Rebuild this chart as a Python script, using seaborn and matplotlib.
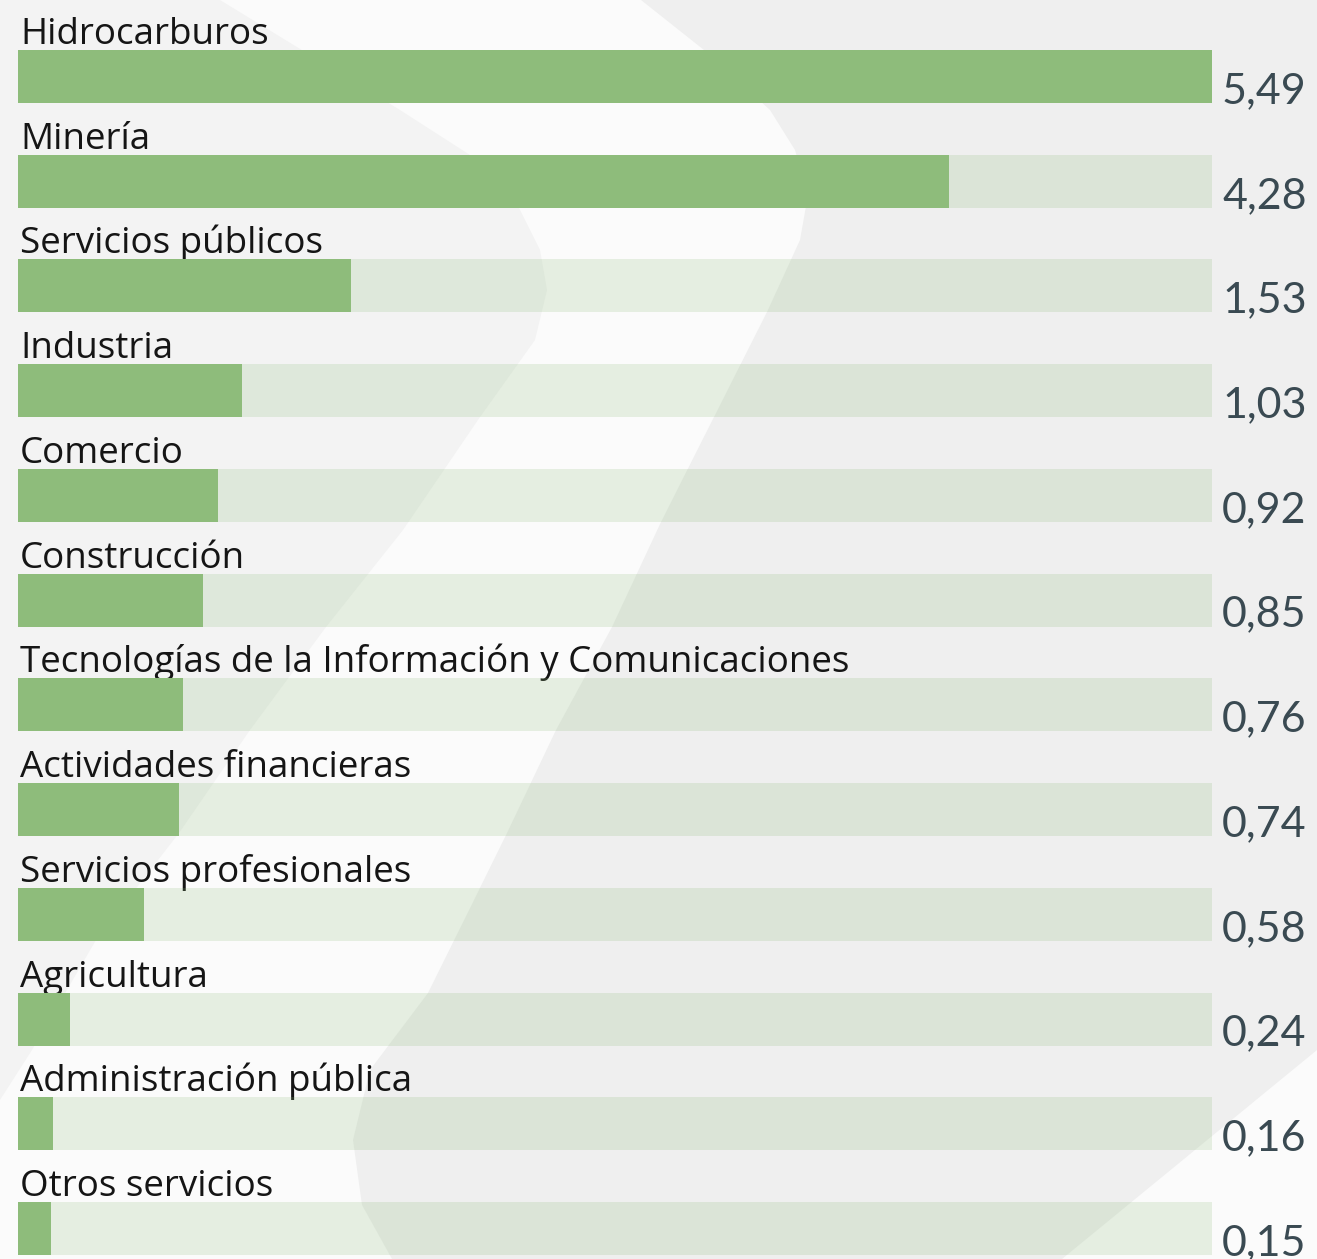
import seaborn as sns
import pandas as pd
import matplotlib.pyplot as plt
import numpy as np

sectors = ["Hidrocarburos", "Minería", "Servicios públicos", "Industria", "Comercio",
           "Construcción", "Tecnologías de la Información y Comunicaciones",
           "Actividades financieras", "Servicios profesionales", "Agricultura",
           "Administración pública", "Otros servicios"]
values = [5.49, 4.28, 1.53, 1.03, 0.92, 0.85, 0.76, 0.74, 0.58, 0.24, 0.16, 0.15]
value_labels = ["5,49", "4,28", "1,53", "1,03", "0,92", "0,85", "0,76", "0,74",
                "0,58", "0,24", "0,16", "0,15"]

green = "#8ebc7b"
W, H = 1317, 1259

df = pd.DataFrame({"sector": sectors, "value": values})
df["track"] = df["value"].max()

sns.set_theme(style="white")
plt.rcParams['font.family'] = ['Open Sans', 'DejaVu Sans']

fig = plt.figure(figsize=(W / 100, H / 100), dpi=100)
fig.patch.set_facecolor("#fbfbfb")

# decorative watermark behind the chart (pixel coords)
bg = fig.add_axes([0, 0, 1, 1], zorder=0)
bg.set_xlim(0, W)
bg.set_ylim(H, 0)
bg.axis("off")
left_shape = [(0, 0), (220, 0), (400, 110), (470, 155), (515, 200), (540, 250), (547, 290),
              (535, 340), (480, 417), (403, 530), (326, 627), (250, 730), (179, 833),
              (96, 940), (32, 1050), (0, 1100)]
right_shape = [(641, 0), (1317, 0), (1317, 1050), (1062, 1259), (392, 1259), (362, 1205),
               (353, 1140), (370, 1070), (428, 993), (474, 900), (507, 833), (556, 730),
               (612, 627), (661, 522), (714, 417), (767, 312), (800, 240), (808, 195),
               (795, 150), (770, 110), (704, 50)]
bg.fill(*zip(*left_shape), color="#f3f3f3", lw=0)
bg.fill(*zip(*right_shape), color="#efefef", lw=0)

ax = fig.add_axes([0, 0, 1, 1], zorder=1)
ax.patch.set_alpha(0)

px = 1194 / 5.49          # pixels per unit
row = 104.73              # pixels per category row
bw = 53 / row

sns.barplot(data=df, x="track", y="sector", color=green, alpha=0.2, width=bw,
            saturation=1, linewidth=0, ax=ax, zorder=2)
sns.barplot(data=df, x="value", y="sector", color=green, width=bw,
            saturation=1, linewidth=0, ax=ax, zorder=3)

ax.set_xlim(-18 / px, (W - 18) / px)
ax.set_ylim((H - 76.5) / row, -76.5 / row)
ax.axis("off")

for i, (name, lab) in enumerate(zip(sectors, value_labels)):
    ax.text(2 / px, i - bw / 2 - 6 / row, name, fontsize=26.5, color="#151515",
            va="baseline", ha="left", zorder=1)
    ax.text(5.49 + 10 / px, i + bw / 2, lab, fontsize=31, color="#3a4a52",
            va="baseline", ha="left", zorder=4, family=["Lato", "DejaVu Sans"])

fig.savefig("out.png", dpi=100, facecolor=fig.get_facecolor())
